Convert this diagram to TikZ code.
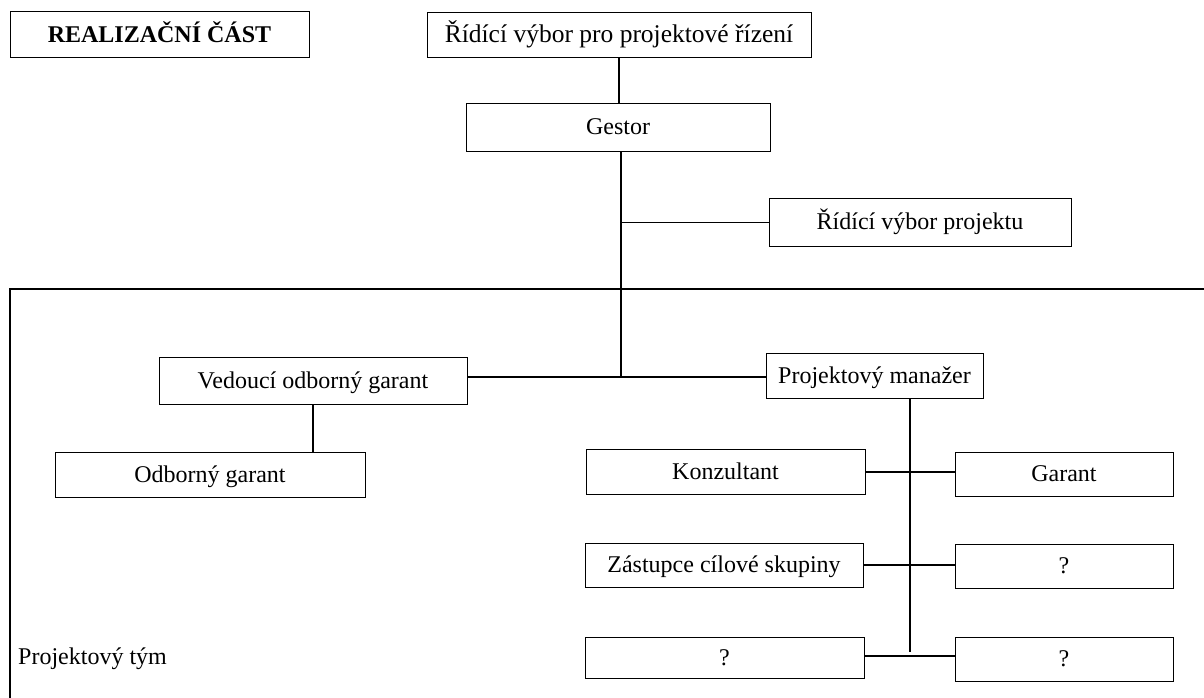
\documentclass[tikz,border=0pt]{standalone}
\usepackage{fontspec}
\setmainfont{Liberation Serif}

\begin{document}
\begin{tikzpicture}[x=1pt, y=-1pt,
                    every node/.style={font=\fontsize{24}{28}\selectfont},
                    box/.style={draw, line width=1pt, rectangle, inner sep=0pt,
                                text height=17.5pt, text depth=2.5pt},
                    link/.style={line width=2pt},
                    thinlink/.style={line width=1.2pt}]
                    \useasboundingbox (0,0) rectangle (1204,698);
                    % frame of the team
                    \draw[line width=1.4pt] (1204,289) -- (10,289) -- (10,698);
                    \node[anchor=base west, inner sep=0pt] (team) at (18,664) {Projektový tým};

                    \node[box, minimum width=299, minimum height=46] (real) at (159.5,35) {\textbf{REALIZAČNÍ ČÁST}};
                    \node[box, minimum width=384, minimum height=45, font=\fontsize{25.5}{28}\selectfont] (rvpr) at (619,35.5) {Řídící výbor pro projektové řízení};
                    \node[box, minimum width=304, minimum height=47] (gestor) at (618,127.5) {Gestor};
                    \node[box, minimum width=302, minimum height=48] (rvp) at (920,222) {Řídící výbor projektu};
                    \node[box, minimum width=308, minimum height=47] (ved) at (313,380.5) {Vedoucí odborný garant};
                    \node[box, minimum width=217, minimum height=45] (pm) at (874.5,375.5) {Projektový manažer};
                    \node[box, minimum width=310, minimum height=45] (og) at (210,474.5) {Odborný garant};
                    \node[box, minimum width=279, minimum height=45] (konz) at (725.5,471.5) {Konzultant};
                    \node[box, minimum width=218, minimum height=44] (garant) at (1064,474) {Garant};
                    \node[box, minimum width=278, minimum height=44] (zast) at (724,565) {Zástupce cílové skupiny};
                    \node[box, minimum width=218, minimum height=44] (q1) at (1064,566) {?};
                    \node[box, minimum width=279, minimum height=41] (q2) at (724.5,657.5) {?};
                    \node[box, minimum width=218, minimum height=44] (q3) at (1064,659) {?};

                    \coordinate (split) at (621,222);
                    \coordinate (trunk) at (621,377);
                    \coordinate (spine) at (910,652);

                    \draw[link] (rvpr.south) -- (rvpr.south |- gestor.north);
                    \draw[link] (gestor.south -| trunk) -- (trunk);
                    \draw[line width=1pt] (split) -- (rvp.west);
                    \draw[thinlink] (ved.east |- trunk) -- (trunk) -- (pm.west |- trunk);
                    \draw[link] (ved.south) -- (ved.south |- og.north);
                    \draw[link] (pm.south -| spine) -- (spine);
                    \draw[link] (konz.east) -- (konz.east -| garant.west);
                    \draw[link] (zast.east) -- (zast.east -| q1.west);
                    \draw[link] (q2.east |- 0,656) -- (q3.west |- 0,656);
                \end{tikzpicture}
\end{document}
